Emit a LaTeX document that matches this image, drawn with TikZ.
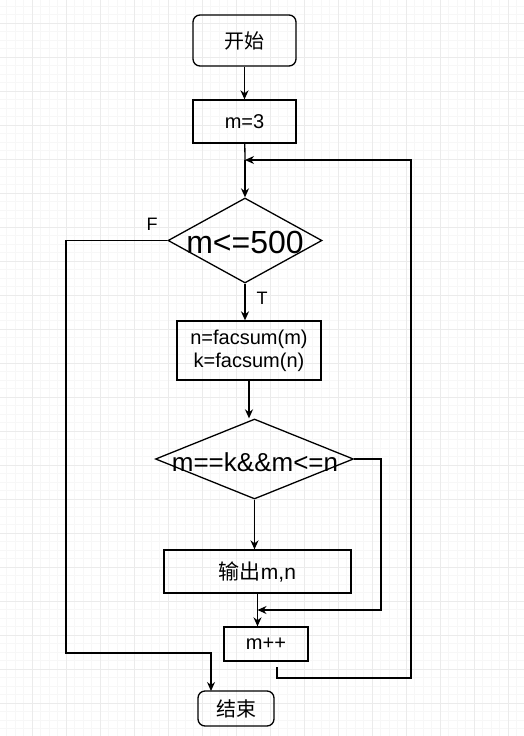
\documentclass[tikz,border=0pt]{standalone}
\usepackage{fontspec}
\setmainfont{Liberation Sans}
\newfontfamily\cjk{Noto Sans CJK SC}
\usepackage{tikz}
\usetikzlibrary{positioning, arrows.meta, shapes.geometric, calc}

\tikzset{
  terminal/.style={draw, line width=1.3pt, rounded corners=7pt, inner sep=0pt},
  process/.style={draw, line width=1.3pt, inner sep=0pt, align=center},
  decision/.style={draw, line width=1.3pt, diamond, inner sep=0pt},
  flow/.style={line width=1.3pt, -{Stealth[length=9pt, width=8pt]}},
  link/.style={line width=1.3pt}
}

\begin{document}
\begin{tikzpicture}[x=1pt, y=-1pt]
\useasboundingbox (0,0) rectangle (524,736);
% grid
\foreach \gx in {0,...,62} \draw[black!3, line width=0.5pt] ({-2+8.5*\gx},0) -- ({-2+8.5*\gx},736);
\foreach \gy in {0,...,87} \draw[black!3, line width=0.5pt] (0,{-11+8.5*\gy}) -- (524,{-11+8.5*\gy});
\foreach \gx in {0,...,16} \draw[black!8, line width=0.8pt] ({-2+34*\gx},0) -- ({-2+34*\gx},736);
\foreach \gy in {0,...,22} \draw[black!8, line width=0.8pt] (0,{-11+34*\gy}) -- (524,{-11+34*\gy});

\node[terminal, minimum width=103pt, minimum height=51pt, font=\cjk\fontsize{20}{22}\selectfont] (start) at (244.5,40.5) {开始};
\node[process, minimum width=103pt, minimum height=43pt, font=\fontsize{20}{22}\selectfont] (init) at (244.5,121.5) {m=3};
\node[decision, minimum width=154pt, minimum height=85pt] (loop) at (245,240.5) {};
\node[font=\fontsize{32}{34}\selectfont] (looptext) at (245,242) {m<=500};
\node[process, minimum width=144pt, minimum height=59pt, font=\fontsize{20}{23}\selectfont] (calc) at (249,350.5) {n=facsum(m)\\k=facsum(n)};
\node[decision, minimum width=198pt, minimum height=80pt] (check) at (254.5,459) {};
\node[font=\fontsize{26}{28}\selectfont] (checktext) at (255,462) {m==k\&\&m<=n};
\node[process, minimum width=187pt, minimum height=43pt, font=\fontsize{21}{23}\selectfont] (output) at (257.5,571.5) {{\cjk 输出}m,n};
\node[process, minimum width=84pt, minimum height=34pt, font=\fontsize{20}{22}\selectfont] (incr) at (266,644) {m++};
\node[terminal, minimum width=76pt, minimum height=35pt, font=\cjk\fontsize{20}{22}\selectfont] (stop) at (236,708.5) {结束};

\node[font=\fontsize{18}{20}\selectfont] (flabel) at (152,224) {F};
\node[font=\fontsize{18}{20}\selectfont] (tlabel) at (262,298) {T};

\coordinate (back) at (277,667);
\coordinate (join) at (245,160);

\draw[flow] (start) -- (init);
\draw[link] (init) -- (join);
\draw[flow] (join) -- (loop.north);
\draw[flow] (loop.south) -- (loop.south |- calc.north);
\draw[flow] (calc.south) -- (calc.south |- check.north);
\draw[flow] (check.south) -- (check.south |- output.north);
\draw[flow] (output.south) -- (output.south |- incr.north);
\draw[flow] (check.east) -- (381,459) -- (381,610) -- (output.south |- 0,610);
\draw[flow] (back) -- (277,678) -- (411,678) -- (411,160) -- (join);
\draw[flow] (loop.west) -- (66,240.5) -- (66,653) -- (211,653) -- (211,691);
\end{tikzpicture}
\end{document}
